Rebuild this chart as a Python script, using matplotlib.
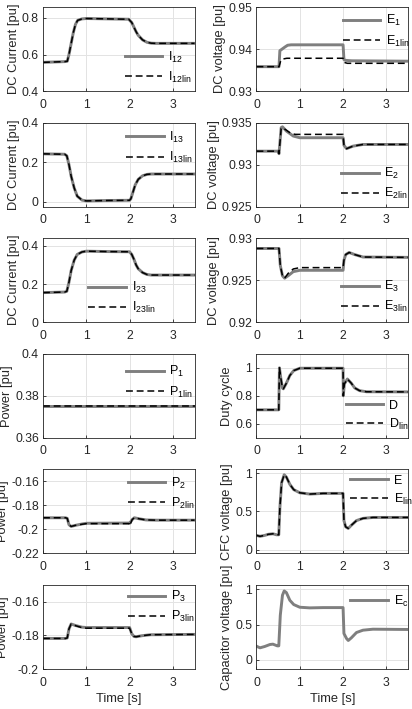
import matplotlib
matplotlib.use('Agg')
import matplotlib.pyplot as plt

plt.rcParams['font.family'] = ['Liberation Sans', 'DejaVu Sans']
plt.rcParams['mathtext.fontset'] = 'custom'
plt.rcParams['mathtext.rm'] = 'Liberation Sans'
plt.rcParams['mathtext.it'] = 'Liberation Sans'
plt.rcParams['mathtext.default'] = 'regular'

# ---- data (time in s, values in pu) ----
t_I12 = [0, 0.5, 0.56, 0.6, 0.65, 0.7, 0.75, 0.8, 0.9, 1.0, 1.5, 1.98, 2.05, 2.1, 2.15, 2.2, 2.3, 2.4, 2.5, 2.6, 3.5]
I12 = [0.557, 0.561, 0.563, 0.6, 0.66, 0.72, 0.765, 0.787, 0.795, 0.797, 0.795, 0.793, 0.775, 0.75, 0.725, 0.705, 0.68, 0.667, 0.662, 0.661, 0.661]

t_I13 = [0, 0.5, 0.55, 0.6, 0.65, 0.72, 0.79, 0.9, 1.0, 1.5, 2.0, 2.03, 2.08, 2.13, 2.2, 2.3, 2.4, 2.5, 3.5]
I13 = [0.242, 0.240, 0.232, 0.187, 0.129, 0.07, 0.028, 0.008, 0.004, 0.006, 0.007, 0.015, 0.05, 0.085, 0.113, 0.131, 0.138, 0.14, 0.14]

t_I23 = [0, 0.5, 0.55, 0.6, 0.65, 0.72, 0.79, 0.9, 1.0, 1.5, 2.0, 2.05, 2.1, 2.15, 2.2, 2.3, 2.4, 2.5, 3.5]
I23 = [0.155, 0.158, 0.162, 0.21, 0.27, 0.325, 0.355, 0.368, 0.372, 0.37, 0.369, 0.355, 0.33, 0.3, 0.28, 0.26, 0.25, 0.247, 0.247]

t_E1 = [0, 0.52, 0.54, 0.58, 0.62, 0.66, 0.72, 0.8, 1.0, 2.0, 2.02, 2.06, 2.2, 3.5]
E1 = [0.9358, 0.9358, 0.9396, 0.9399, 0.9402, 0.9405, 0.9409, 0.941, 0.941, 0.941, 0.9375, 0.9373, 0.9372, 0.9371]
t_E1lin = [0, 0.52, 0.56, 0.6, 0.7, 2.0, 2.03, 2.1, 3.5]
E1lin = [0.9358, 0.9358, 0.9372, 0.9376, 0.9378, 0.9378, 0.9368, 0.9366, 0.9366]

t_E2 = [0, 0.5, 0.52, 0.57, 0.6, 0.69, 0.85, 1.0, 2.0, 2.02, 2.08, 2.23, 2.46, 3.5]
E2 = [0.9316, 0.9316, 0.9313, 0.9344, 0.9345, 0.9340, 0.9334, 0.9332, 0.9332, 0.9323, 0.9319, 0.9322, 0.9324, 0.9324]
t_E2lin = [0, 0.5, 0.52, 0.57, 0.6, 0.69, 0.8, 0.9, 2.0, 2.02, 2.08, 2.23, 2.46, 3.5]
E2lin = [0.9316, 0.9316, 0.9313, 0.9343, 0.9344, 0.9341, 0.9337, 0.9336, 0.9336, 0.9323, 0.9319, 0.9322, 0.9324, 0.9324]

t_E3 = [0, 0.52, 0.55, 0.6, 0.65, 0.73, 0.85, 1.0, 2.0, 2.02, 2.06, 2.14, 2.27, 2.46, 3.5]
E3 = [0.92878, 0.92878, 0.92675, 0.92553, 0.92524, 0.92553, 0.92602, 0.92618, 0.92618, 0.92736, 0.92805, 0.9283, 0.92805, 0.92776, 0.92772]
E3lin = [0.92878, 0.92878, 0.92675, 0.92553, 0.92524, 0.92581, 0.92634, 0.9265, 0.9265, 0.92736, 0.92805, 0.9283, 0.92805, 0.92776, 0.92772]

t_P1 = [0, 3.5]
P1 = [0.375, 0.375]

t_D = [0, 0.515, 0.53, 0.56, 0.6, 0.62, 0.69, 0.77, 0.86, 1.0, 2.0, 2.005, 2.03, 2.1, 2.19, 2.27, 2.38, 2.54, 3.5]
D = [0.7, 0.7, 1.0, 0.93, 0.855, 0.85, 0.89, 0.945, 0.98, 0.997, 0.997, 0.8, 0.885, 0.92, 0.89, 0.856, 0.837, 0.829, 0.828]

t_P2 = [0, 0.52, 0.56, 0.6, 0.65, 0.75, 0.9, 1.0, 1.99, 2.0, 2.06, 2.11, 2.23, 2.38, 2.61, 3.5]
P2 = [-0.1903, -0.1903, -0.1908, -0.1961, -0.1975, -0.1966, -0.1955, -0.1949, -0.1947, -0.1950, -0.1918, -0.1903, -0.1912, -0.1921, -0.1923, -0.1923]
P2lin = [-0.1903, -0.1903, -0.1908, -0.1961, -0.1975, -0.1966, -0.1957, -0.1952, -0.1952, -0.1969, -0.1918, -0.1903, -0.1912, -0.1921, -0.1923, -0.1923]

t_E = [0, 0.08, 0.19, 0.27, 0.38, 0.46, 0.515, 0.54, 0.58, 0.64, 0.69, 0.77, 0.86, 1.0, 1.23, 1.54, 2.0, 2.02, 2.06, 2.12, 2.19, 2.31, 2.46, 2.69, 3.5]
E = [0.186, 0.174, 0.186, 0.2, 0.207, 0.194, 0.194, 0.545, 0.876, 0.98, 0.95, 0.855, 0.785, 0.744, 0.727, 0.736, 0.736, 0.38, 0.298, 0.277, 0.318, 0.38, 0.409, 0.421, 0.421]

t_P3 = [0, 0.52, 0.56, 0.6, 0.65, 0.75, 0.9, 1.0, 2.0, 2.05, 2.1, 2.15, 2.28, 2.48, 3.5]
P3 = [-0.1818, -0.1818, -0.1815, -0.1761, -0.1732, -0.1741, -0.1751, -0.1753, -0.1753, -0.1790, -0.1806, -0.1808, -0.1802, -0.1796, -0.1794]
P3lin = [-0.1818, -0.1818, -0.1815, -0.1761, -0.1732, -0.1742, -0.1754, -0.1757, -0.1757, -0.1790, -0.1806, -0.1808, -0.1802, -0.1796, -0.1794]

t_Ec = [0, 0.08, 0.19, 0.31, 0.38, 0.48, 0.515, 0.55, 0.6, 0.64, 0.69, 0.77, 0.86, 1.0, 1.23, 1.54, 2.0, 2.02, 2.08, 2.12, 2.19, 2.31, 2.46, 2.69, 3.5]
Ec = [0.193, 0.17, 0.189, 0.217, 0.222, 0.198, 0.198, 0.632, 0.915, 0.976, 0.953, 0.844, 0.783, 0.745, 0.736, 0.74, 0.74, 0.373, 0.302, 0.274, 0.311, 0.387, 0.42, 0.434, 0.43]

GRAY = '#7f7f7f'
AXC = '#262626'


def panel(ax, t, y, tl, yl, labels, ylabel, ylim, yticks, leg_xy):
    ax.plot(t, y, color=GRAY, lw=2.1, label=labels[0])
    if tl is not None:
        ax.plot(tl, yl, color='black', lw=1.1, dashes=(4.5, 2.5), label=labels[1])
    ax.set_xlim(0, 3.5)
    ax.set_xticks([0, 1, 2, 3])
    ax.set_ylim(*ylim)
    ax.set_yticks(yticks)
    ax.set_yticklabels([('%g' % v) for v in yticks])
    ax.grid(True, color='#e3e3e3', lw=0.7)
    ax.set_axisbelow(True)
    for s in ax.spines.values():
        s.set_color(AXC)
        s.set_linewidth(0.6)
    ax.tick_params(direction='in', length=2.5, width=0.6, colors=AXC, labelsize=8.7)
    ax.tick_params(axis='x', pad=5.5)
    ax.tick_params(axis='y', pad=3)
    ax.set_ylabel(ylabel, fontsize=9.3, color=AXC, labelpad=1.5)
    ax.legend(loc='center left', bbox_to_anchor=leg_xy, frameon=False,
              fontsize=9, handlelength=3.0, handletextpad=0.45,
              borderpad=0, borderaxespad=0, labelspacing=0.4)


fig, axes = plt.subplots(6, 2, figsize=(4.12, 7.09), dpi=100)
fig.subplots_adjust(left=0.1044, right=0.9903, top=0.9901, bottom=0.0564,
                    hspace=0.376, wspace=0.409)

panel(axes[0, 0], t_I12, I12, t_I12, I12, ['I$_{12}$', 'I$_{12lin}$'],
      'DC Current [pu]', (0.4, 0.86), [0.4, 0.6, 0.8], (0.54, 0.285))
panel(axes[0, 1], t_E1, E1, t_E1lin, E1lin, ['E$_{1}$', 'E$_{1lin}$'],
      'DC voltage [pu]', (0.93, 0.95), [0.93, 0.94, 0.95], (0.57, 0.715))
panel(axes[1, 0], t_I13, I13, t_I13, I13, ['I$_{13}$', 'I$_{13lin}$'],
      'DC Current [pu]', (-0.025, 0.4), [0, 0.2, 0.4], (0.55, 0.705))
panel(axes[1, 1], t_E2, E2, t_E2lin, E2lin, ['E$_{2}$', 'E$_{2lin}$'],
      'DC voltage [pu]', (0.925, 0.935), [0.925, 0.93, 0.935], (0.56, 0.275))
panel(axes[2, 0], t_I23, I23, t_I23, I23, ['I$_{23}$', 'I$_{23lin}$'],
      'DC Current [pu]', (0, 0.44), [0, 0.2, 0.4], (0.30, 0.29))
panel(axes[2, 1], t_E3, E3, t_E3, E3lin, ['E$_{3}$', 'E$_{3lin}$'],
      'DC voltage [pu]', (0.92, 0.93), [0.92, 0.925, 0.93], (0.56, 0.305))
panel(axes[3, 0], t_P1, P1, t_P1, P1, ['P$_{1}$', 'P$_{1lin}$'],
      'Power [pu]', (0.36, 0.4), [0.36, 0.38, 0.4], (0.55, 0.665))
panel(axes[3, 1], t_D, D, t_D, D, ['D', 'D$_{lin}$'],
      'Duty cycle', (0.5, 1.1), [0.6, 0.8, 1], (0.59, 0.265))
panel(axes[4, 0], t_P2, P2, t_P2, P2lin, ['P$_{2}$', 'P$_{2lin}$'],
      'Power [pu]', (-0.22, -0.15), [-0.22, -0.2, -0.18, -0.16], (0.56, 0.715))
panel(axes[4, 1], t_E, E, t_E, E, ['E', 'E$_{lin}$'],
      'CFC voltage [pu]', (-0.05, 1.05), [0, 0.5, 1], (0.62, 0.745))
panel(axes[5, 0], t_P3, P3, t_P3, P3lin, ['P$_{3}$', 'P$_{3lin}$'],
      'Power [pu]', (-0.2, -0.15), [-0.2, -0.18, -0.16], (0.56, 0.74))
panel(axes[5, 1], t_Ec, Ec, None, None, ['E$_{c}$'],
      'Capacitor voltage [pu]', (-0.13, 1.06), [0, 0.5, 1], (0.62, 0.81))

axes[5, 0].set_xlabel('Time [s]', fontsize=9.3, color=AXC, labelpad=3)
axes[5, 1].set_xlabel('Time [s]', fontsize=9.3, color=AXC, labelpad=3)

fig.savefig('out.png', dpi=100)
plt.close(fig)
